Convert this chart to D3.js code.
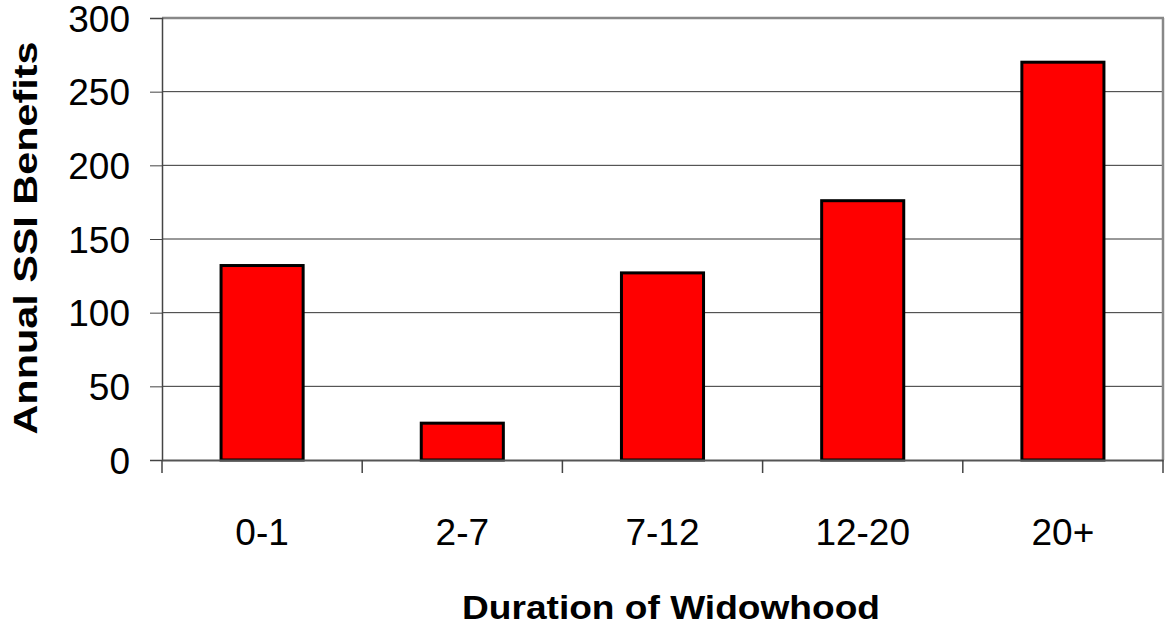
<!DOCTYPE html>
<html><head><meta charset="utf-8">
<script src="https://cdn.jsdelivr.net/npm/d3@7"></script>
<style>body{margin:0;background:#fff}svg{display:block}</style>
</head><body><svg id="c" width="1169" height="632"></svg>
<script>
const categories = ["0-1","2-7","7-12","12-20","20+"];
const values = [132, 25, 127, 176, 270];
const yTicks = [0,50,100,150,200,250,300];

const svg = d3.select("#c");
const L=162, R=1163, T=18, B=460;
const x = d3.scaleBand().domain(categories).range([L,R]).paddingInner(0.59).paddingOuter(0.295);
const xb = d3.scaleBand().domain(categories).range([L,R]);
const y = d3.scaleLinear().domain([0,300]).range([B,T]);
const font = "Liberation Sans, Arial, sans-serif";

// gridlines
svg.append("g").selectAll("line").data(yTicks.filter(d=>d>0&&d<300)).join("line")
  .attr("x1",L).attr("x2",R).attr("y1",d=>y(d)).attr("y2",d=>y(d))
  .attr("stroke","#333").attr("stroke-width",1);
// top & right border
svg.append("line").attr("x1",L).attr("x2",R+1).attr("y1",T).attr("y2",T).attr("stroke","#888").attr("stroke-width",2.5);
svg.append("line").attr("x1",R).attr("x2",R).attr("y1",T).attr("y2",B).attr("stroke","#888").attr("stroke-width",2.5);

// bars
svg.append("g").selectAll("rect").data(values).join("rect")
  .attr("x",(d,i)=>x(categories[i])).attr("width",x.bandwidth())
  .attr("y",d=>y(d)).attr("height",d=>B-y(d))
  .attr("fill","#ff0000").attr("stroke","#000").attr("stroke-width",3);

// y axis
const ya = svg.append("g").attr("transform",`translate(${L},0)`)
  .call(d3.axisLeft(y).tickValues(yTicks).tickSize(12).tickPadding(20));
ya.select(".domain").attr("stroke","#444").attr("stroke-width",1.5);
ya.selectAll(".tick line").attr("stroke","#444");
ya.selectAll("text").attr("font-family",font).attr("font-size",37).attr("fill","#000").attr("dy","0.36em");

// x axis
const xa = svg.append("g").attr("transform",`translate(0,${B})`)
  .call(d3.axisBottom(xb).tickSize(0));
xa.select(".domain").attr("stroke","#555").attr("stroke-width",2);
xa.selectAll("text").attr("font-family",font).attr("font-size",37).attr("fill","#000")
  .attr("y",85).attr("dy",0);
// boundary ticks
const bounds = categories.map(c=>xb(c)).concat([R]);
svg.append("g").selectAll("line").data(bounds).join("line")
  .attr("x1",d=>d).attr("x2",d=>d).attr("y1",B).attr("y2",B+13)
  .attr("stroke","#444").attr("stroke-width",1.5);

// titles
svg.append("text").attr("x",671).attr("y",619).attr("text-anchor","middle")
  .attr("font-family",font).attr("font-weight","bold").attr("font-size",34)
  .attr("textLength",418).attr("lengthAdjust","spacingAndGlyphs").text("Duration of Widowhood");
svg.append("text").attr("transform","translate(37,238) rotate(-90)").attr("text-anchor","middle")
  .attr("font-family",font).attr("font-weight","bold").attr("font-size",34)
  .attr("textLength",393).attr("lengthAdjust","spacingAndGlyphs").text("Annual SSI Benefits");
</script></body></html>
